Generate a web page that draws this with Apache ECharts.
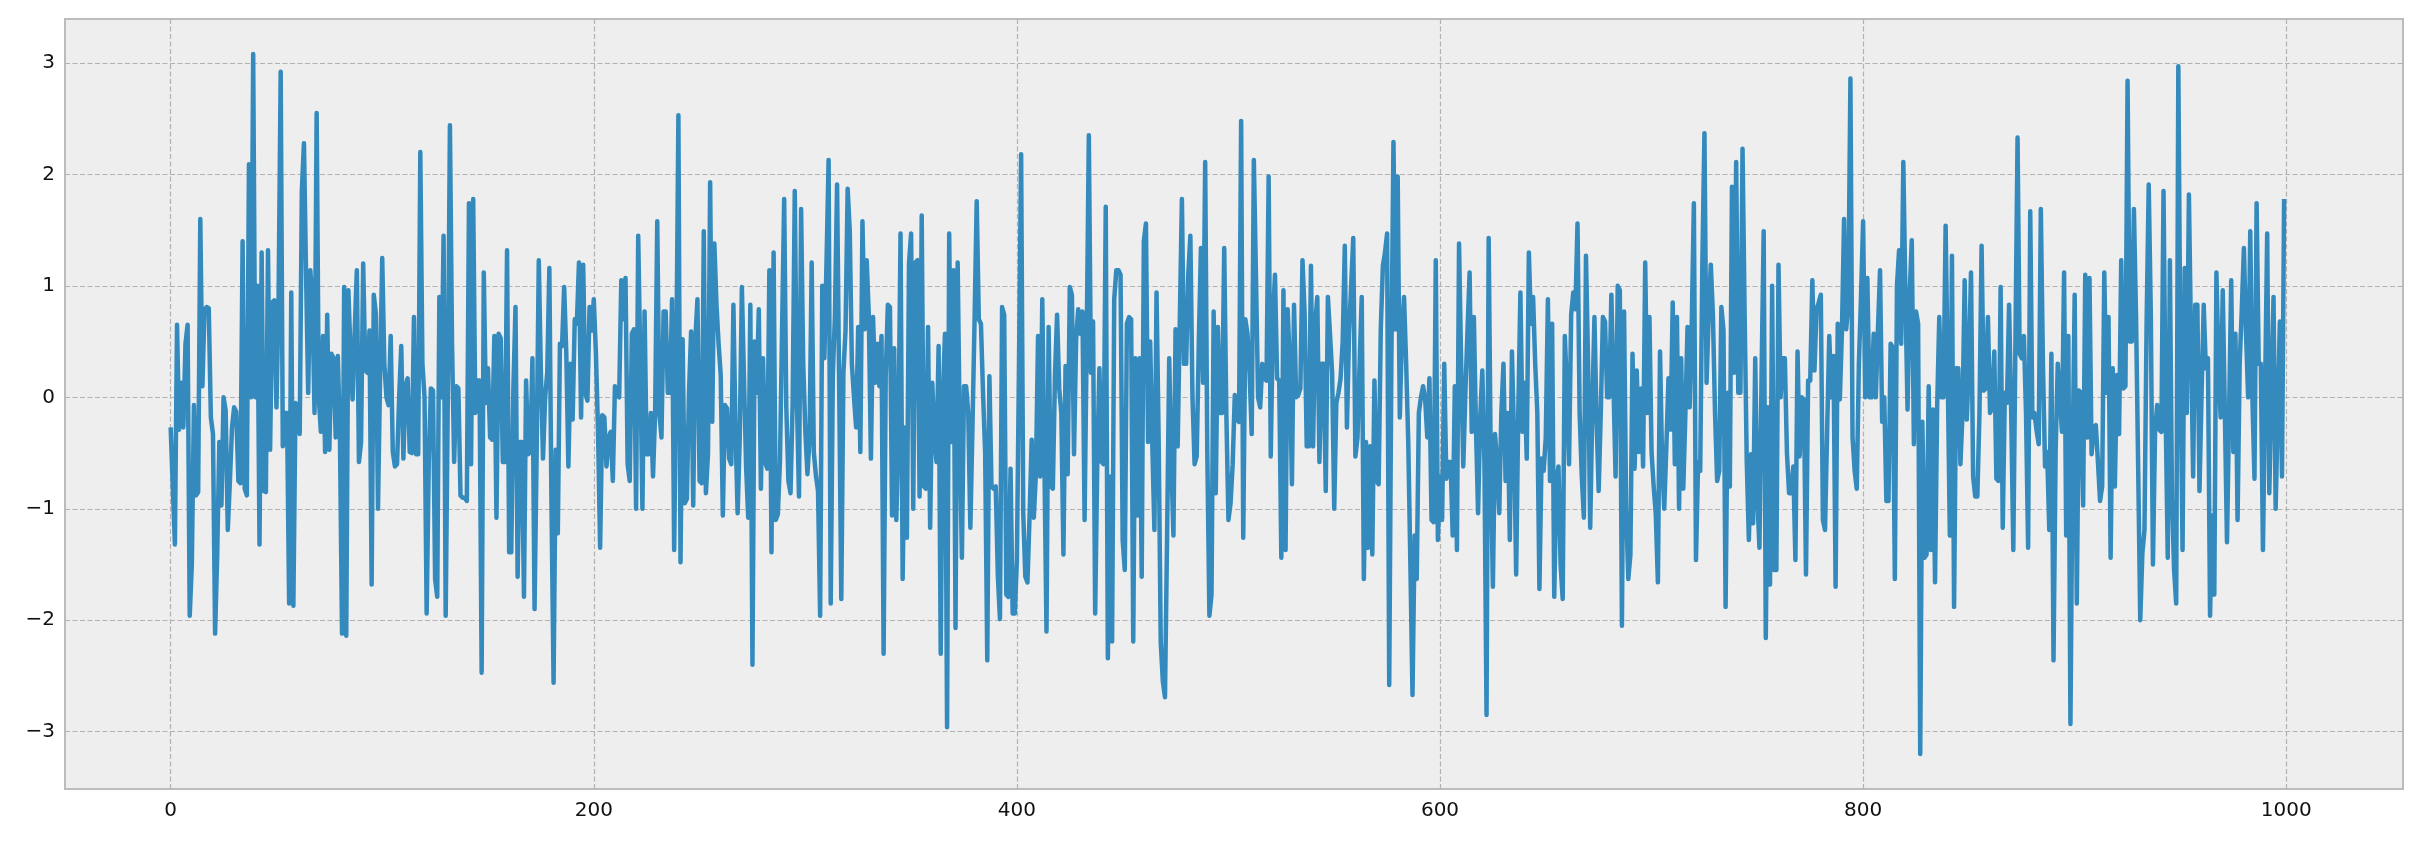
<!DOCTYPE html>
<html><head><meta charset="utf-8">
<script src="https://cdn.jsdelivr.net/npm/echarts@6/dist/echarts.min.js"></script>
<style>html,body{margin:0;padding:0;background:#fff}#c{width:2409px;height:848px}</style>
</head><body><div id="c"></div><script>
// values, index 0..999, in consecutive segments
const segA=[-0.27,-0.8,-1.32,0.65,-0.29,0.13,-0.27,0.48,0.65,-1.96,
-1.5,-0.07,-0.88,-0.85,1.6,0.1,0.79,0.81,0.8,-0.18,
-0.33,-2.12,-1.41,-0.4,-0.97,0.0,-0.12,-1.19,-0.75,-0.27,
-0.09,-0.13,-0.75,-0.77,1.4,-0.82,-0.88,2.09,0.0,3.08,
0.0,1.0,-1.32,1.3,-0.84,-0.85,1.32,-0.47,0.85,0.87,
-0.09,0.87,2.92,-0.44,-0.14,-0.14,-1.85,0.94,-1.87,-0.05,
-0.14,-0.33,1.85,2.28,1.1,0.04,1.14,0.87,-0.14,2.55,
0.0,-0.31,0.55,-0.49,0.74,-0.47,0.39,0.35,-0.36];
const segB=[0.37,-0.33,-2.12,0.99,-2.14,0.96,0.4,-0.02,0.6,1.14,
-0.58,-0.4,1.2,0.24,0.22,0.6,-1.68,0.92,0.75,-1.0,
0.2,1.25,0.3,0.0,-0.07,0.55,-0.49,-0.62,-0.6,0.0,
0.46,-0.55,0.1,0.17,-0.49,-0.5,0.72,-0.51,-0.51,2.2,
0.3,0.0,-1.94,-0.58,0.08,0.06,-1.63,-1.79,0.9,0.0,
1.45,-1.96,0.0,2.44,0.48,-0.58,0.1,0.08,-0.88,-0.9,
-0.9,-0.93,1.74,-0.6,1.78,-0.14,0.15,0.15,-2.47,1.12,
-0.05,0.26,-0.36,-0.38,0.55,-1.08,0.57,0.53,-0.58,-0.58,
1.32,-1.39,-1.39,0.08,0.81,-1.61];
const segC=[-0.4,-0.4,-1.79,0.15,-0.51,-0.49,0.35,-1.9,-0.49,1.23,
0.22,-0.55,0.0,0.22,1.16,-0.95,-2.56,-0.47,-1.22,0.48,
0.46,0.99,0.4,-0.62,0.3,-0.2,0.7,0.66,1.21,-0.18,
1.19,0.04,-0.03,0.81,0.6,0.88,0.4,-0.3,-1.35,-0.16,
-0.18,-0.62,-0.36,-0.31,-0.75,0.1,0.02,0.0,1.05,0.7,
1.07,-0.6,-0.75,0.57,0.61,-1.0,1.45,0.3,-1.0,0.77,
-0.51,-0.51,-0.14,-0.71,-0.14,1.58,-0.14,-0.36,0.77,0.77,
0.04,0.04,0.88,-1.37,0.3,2.53,-1.48,0.52,-0.95,-0.91,
0.04,0.59,-0.97,0.52];
const segD=[0.88,-0.75,-0.77,1.49,-0.86,-0.5,1.93,-0.22,1.38,0.83,
0.48,0.2,-1.06,-0.07,-0.1,-0.55,-0.6,0.83,-0.3,-1.04,
-0.36,0.99,0.17,-0.62,-1.08,0.83,-2.4,0.5,0.04,0.79,
-0.82,0.35,-0.58,-0.64,1.14,-1.39,1.3,-1.1,-1.05,-0.58,
0.6,1.78,-0.09,-0.75,-0.86,-0.05,1.85,0.0,-0.89,1.69,
0.3,-0.3,-0.69,-0.36,1.21,-0.49,-0.7,-0.84,-1.96,1.0,
0.35,1.2,2.13,-1.85,0.2,0.74,1.91,0.08,-1.81,0.22,
0.6,1.87,1.49,0.3,0.0,-0.27,0.63,-0.49,1.58,0.61,
1.23,0.74,-0.55];
const segE=[0.72,0.13,0.48,0.1,0.55,-2.3,0.2,0.83,0.81,-1.06,
0.44,-1.1,-0.36,1.47,-1.63,-0.27,-1.26,1.2,1.47,-1.0,
1.21,1.23,-0.89,1.63,-0.8,-0.82,0.63,-1.17,0.13,-0.36,
-0.58,0.46,-2.3,0.0,0.57,-2.96,1.47,-0.4,1.14,-2.07,
1.21,-0.31,-1.44,0.1,0.1,-0.14,-1.17,-0.27,0.7,1.76,
0.7,0.66,0.04,-0.5,-2.36,0.19,-0.8,-0.82,-0.8,-1.6,
-1.99,0.81,0.74,-1.77,-1.79,-0.64,-1.94,-1.94,-1.46,0.3,
2.18,-1.04,-1.61,-1.66,-1.06,-0.38,-1.08,-0.68,0.55,-0.71,
0.88,-0.58,-2.1,0.63];
const segF=[-0.8,-0.82,0.2,0.74,0.08,-0.14,-1.41,0.28,-0.69,0.99,
0.92,-0.51,0.52,0.79,0.57,0.77,-1.1,0.52,2.35,0.22,
0.68,-1.94,-0.58,0.26,-0.58,-0.6,1.71,-2.34,-0.71,-2.19,
0.88,1.14,1.14,1.1,-1.28,-1.55,0.66,0.72,0.7,-2.19,
0.35,-1.06,0.35,-1.61,1.4,1.56,-0.4,0.5,-0.42,-1.19,
0.94,-0.36,-2.2,-2.55,-2.69,-1.24,0.35,-0.58,-1.24,0.61,
-0.44,0.68,1.78,0.3,0.3,1.1,1.45,0.0,-0.6,-0.53,
0.5,1.34,0.13,2.11,-0.49,-1.96,-1.77,0.77,-0.86,0.63,
-0.14,-0.14,1.34,-0.14,-1.1];
const segG=[-0.95,-0.6,0.02,-0.2,-0.22,2.48,-1.26,0.7,0.57,0.22,
-0.33,2.13,1.1,0.0,-0.09,0.3,0.17,0.15,1.98,-0.53,
0.68,1.1,0.17,0.15,-1.44,0.96,-1.37,0.79,0.3,-0.78,
0.83,0.0,0.02,0.08,1.23,0.75,-0.44,-0.44,1.18,-0.44,
0.66,0.9,-0.58,0.3,0.3,-0.84,0.9,0.57,0.22,-1.0,
-0.05,0.04,0.17,0.5,1.36,-0.27,0.57,1.0,1.43,-0.53,
-0.36,0.3,0.9,-1.63,-0.4,-1.35,-0.44,-1.41,0.15,-0.75,
-0.78,0.61,1.18,1.3,1.47,-2.58,0.3,2.29,0.61,1.98,
-0.18,0.57,0.9];
const segH=[0.3,-0.4,-1.5,-2.67,-1.24,-1.63,-0.14,0.0,0.1,-0.02,
-0.36,0.17,-1.1,-1.12,1.23,-1.28,-0.71,-1.1,0.3,-0.73,
-0.58,-0.58,-1.24,0.1,-1.37,1.38,0.3,-0.62,0.04,0.6,
1.12,-0.31,0.72,-0.27,-1.04,-0.18,0.24,-0.58,-2.85,1.43,
-0.58,-1.7,-0.33,-0.58,-1.04,-0.14,0.3,-0.75,-0.14,-1.28,
0.41,-0.36,-1.59,-0.14,0.94,-0.31,0.13,-0.55,1.3,0.66,
0.9,0.3,-0.14,-1.72,-0.55,-0.66,-0.36,0.88,-0.75,0.66,
-1.79,-0.75,-0.62,-1.5,-1.81,0.55,0.08,-0.6,0.74,0.94,
0.79,1.56,-0.14,-0.7,-1.08];
const segI=[1.27,0.3,-1.17,-0.1,0.72,-0.2,-0.84,-0.14,0.72,0.68,
0.0,0.0,0.92,0.1,-0.71,1.0,0.96,-2.05,0.77,-1.0,
-1.63,-1.41,0.39,-0.64,0.24,-0.49,0.08,-0.62,1.21,-0.14,
0.72,-0.49,-0.8,-1.05,-1.66,0.41,-0.58,-1.0,-0.44,0.17,
-0.29,0.85,-0.6,0.72,-1.0,0.35,-0.82,-0.14,0.63,-0.09,
0.66,1.74,-1.46,-0.58,-0.66,1.19,2.37,0.13,0.74,1.19,
0.74,-0.14,-0.75,-0.66,0.81,0.6,-1.88,0.04,-0.8,1.89,
0.22,2.11,0.04,0.04,2.23,0.74,-0.58,-1.28,-0.51,-1.13,
0.35,-0.9,-1.35,0.2,1.49];
const segJ=[-2.16,-0.09,-1.68,1.0,-1.55,-1.55,1.19,0.0,0.35,0.35,
-0.5,-0.86,-0.86,-0.62,-1.46,0.41,-0.53,0.0,-0.02,-1.59,
0.15,0.15,1.05,0.24,0.79,0.85,0.92,-1.1,-1.19,-0.3,
0.55,0.0,0.37,-1.7,0.66,-0.02,0.6,1.6,0.61,0.83,
2.86,-0.36,-0.66,-0.82,0.3,0.9,1.58,0.0,1.07,0.0,
0.0,0.57,0.0,0.6,1.14,-0.22,0.0,-0.93,-0.93,0.48,
0.45,-1.63,1.0,1.32,0.48,2.11,0.92,-0.11,0.92,1.41,
-0.42,0.77,0.66,-3.2,-0.22,-1.44,-1.41,0.1,-1.37,-0.11,
-1.66,-0.09,0.72];
const segK=[0.0,0.0,1.54,0.2,-1.24,1.27,-1.88,0.26,0.26,-0.6,
-0.14,1.05,-0.2,0.3,1.12,-0.71,-0.89,-0.89,-0.14,1.36,
0.06,0.08,0.72,-0.14,-0.09,0.41,-0.73,-0.75,0.99,-1.17,
0.04,-0.05,0.83,-0.14,-1.37,0.5,2.33,0.39,0.35,0.55,
-0.14,-1.35,1.67,-0.18,-0.14,-0.3,-0.42,1.69,0.3,-0.62,
-0.49,-1.19,0.39,-2.36,-0.49,0.3,0.0,-0.31,1.12,-1.24,
0.55,-2.93,-0.58,0.92,-1.85,0.06,0.04,-0.97,1.1,-0.36,
1.07,-0.51,-0.27,-0.25,-0.58,-0.93,-0.8,1.12,0.04,0.72,
-1.44,0.26];
const segL=[-0.8,0.2,-0.33,1.23,0.08,0.1,2.84,0.5,0.5,1.69,
0.74,-0.6,-2.0,-1.4,-1.19,0.66,1.91,0.74,-1.5,-0.31,
-0.07,-0.29,-0.31,1.85,-0.14,-1.44,1.23,-0.9,-1.55,-1.85,
2.97,0.3,-1.37,1.16,-0.14,1.82,0.52,-0.71,0.83,0.83,
-0.84,0.04,0.83,0.26,0.35,-1.96,-1.06,-1.77,1.12,0.3,
-0.18,0.96,-0.14,-1.3,-0.14,1.05,-0.49,0.57,-1.1,0.3,
0.79,1.34,0.57,0.0,1.49,0.0,-0.73,1.74,0.3,0.3,
-1.37,0.04,1.47,-0.86,0.04,0.9,-1.0,-0.14,0.68,-0.71,
1.78];
const xTicks=[0,200,400,600,800,1000];
const yTicks=[-3,-2,-1,0,1,2,3];

const values=[].concat(segA,segB,segC,segD,segE,segF,segG,segH,segI,segJ,segK,segL);
const data=values.map((v,i)=>[i,v]);
const fmt=v=>String(v).replace('-','\u2212');
const gridStyle={color:'#b2b2b2',width:1.2,type:[5,2.5]};
const labelStyle={color:'#111',fontFamily:'DejaVu Sans',fontSize:20};
const chart=echarts.init(document.getElementById('c'),null,{renderer:'canvas'});
chart.setOption({
  animation:false,
  backgroundColor:'#ffffff',
  grid:{left:65,top:19,width:2338,height:770,show:true,backgroundColor:'#eeeeee',borderColor:'#bcbcbc',borderWidth:2},
  xAxis:{type:'value',min:-49.95,max:1055.2,axisLine:{show:false},axisTick:{show:false},splitLine:{show:false},
    axisLabel:Object.assign({customValues:xTicks,formatter:fmt,margin:12},labelStyle)},
  yAxis:{type:'value',min:-3.514,max:3.394,axisLine:{show:false},axisTick:{show:false},splitLine:{show:false},
    axisLabel:Object.assign({customValues:yTicks,formatter:fmt,margin:10},labelStyle)},
  series:[{
    type:'line',data:data,showSymbol:false,symbol:'none',z:3,
    lineStyle:{color:'#348ABD',width:4.5,join:'round'},itemStyle:{color:'#348ABD'},
    markLine:{silent:true,z:1,symbol:'none',label:{show:false},lineStyle:gridStyle,animation:false,
      emphasis:{disabled:true},
      data:xTicks.map(v=>({xAxis:v})).concat(yTicks.map(v=>({yAxis:v})))}
  }]
});
</script></body></html>
